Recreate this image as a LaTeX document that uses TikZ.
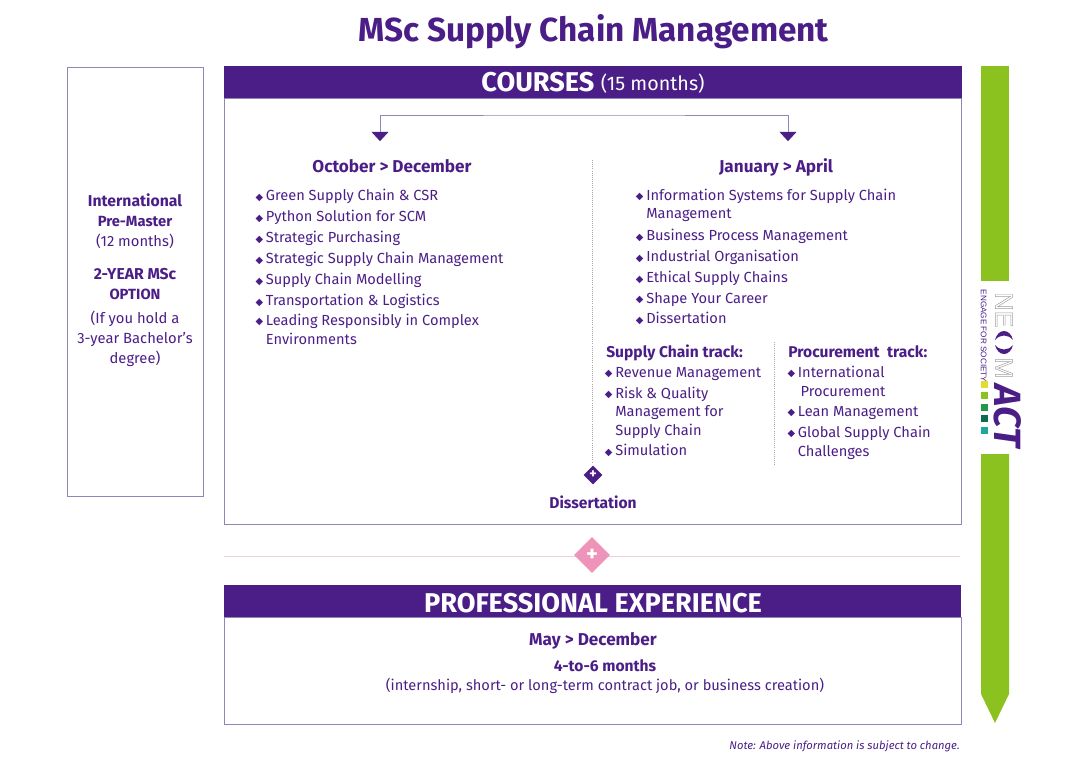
\documentclass[tikz,border=0pt]{standalone}
\usepackage{fontspec}
\setmainfont{Fira Sans}
\newfontfamily\symfont{DejaVu Sans}
\newfontfamily\logofont{Liberation Sans}
\usepackage{xcolor}
\usetikzlibrary{shapes.geometric,arrows.meta}
\definecolor{msPurple}{HTML}{4B1E87}
\definecolor{msGreen}{HTML}{8CC21F}
\definecolor{msFrame}{HTML}{8F86B8}
\definecolor{msPink}{HTML}{EE93B9}
\definecolor{msRule}{HTML}{EBCFDB}
\newcommand{\bul}{\llap{\raisebox{0.6pt}{\symfont\fontsize{7}{7}\selectfont\char"25C6}\hspace{2pt}}}
\newcommand{\itmstrut}{\rule[-2.5pt]{0pt}{8pt}}
\newcommand{\outl}[1]{\special{pdf:code 1 Tr 0.35 w 0.62 G}#1\special{pdf:code 0 Tr}}

\begin{document}
\begin{tikzpicture}[
  frm/.style={draw=msFrame, line width=0.7pt},
  hdr/.style={text=white, font=\fontsize{19.3}{21}\selectfont\bfseries, anchor=center, inner sep=0pt},
  head/.style={text=msPurple, font=\fontsize{12.2}{14}\selectfont\bfseries, inner sep=0pt, text height=9pt, text depth=3pt},
  sub/.style={text=msPurple, font=\fontsize{11.1}{13}\selectfont\bfseries, inner sep=0pt},
  itm/.style={text=msPurple, font=\fontsize{10.4}{13.1}\selectfont, align=left, anchor=west, inner sep=0pt, execute at begin node=\itmstrut, execute at end node=\itmstrut},
  side/.style={text=msPurple, font=\fontsize{10.5}{14.2}\selectfont, align=center, inner sep=0pt},
  diam/.style={diamond, aspect=1, inner sep=0pt, text=white, font=\bfseries},
  sq/.style={minimum size=0.19cm, inner sep=0pt},
  arr/.style={draw=msFrame, line width=0.7pt},
  tip/.style={isosceles triangle, isosceles triangle apex angle=85, shape border rotate=-90, fill=msPurple, inner sep=0pt, minimum width=0.43cm, minimum height=0.22cm}
]
\useasboundingbox (0,0) rectangle (27,18.95);

% Titre
\node[text=msPurple, font=\fontsize{23.7}{26}\selectfont\bfseries] (title) at (14.84,18.17) {MSc Supply Chain Management};

% Colonne gauche
\draw[frm] (1.675,6.55) rectangle (5.075,17.275);
\node[side] (premaster) at (3.375,13.42) {\fontsize{11.2}{14.2}\selectfont\textbf{International}\\\textbf{Pre-Master}\\(12 months)};
\node[side] (option) at (3.375,11.85) {\fontsize{11.2}{14.2}\selectfont\textbf{2-YEAR MSc}\\\textbf{OPTION}};
\node[side] (bachelor) at (3.375,10.48) {(If you hold a\\3-year Bachelor’s\\degree)};

% Courses
\fill[msPurple] (5.6,16.5) rectangle (24.05,17.3);
\draw[frm] (5.6,5.85) rectangle (24.025,16.5);
\node[hdr] (courses) at (14.825,16.88) {COURSES {\fontsize{14}{16}\selectfont\mdseries\raisebox{1.2pt}{(15 months)}}};

% Fleches
\node[tip] (octtip) at (9.5,15.56) {};
\node[tip] (jantip) at (19.7,15.56) {};
\coordinate (split) at (14.6,16.075);
\draw[arr] (octtip.north) |- (split) -| (jantip.north);

\node[head] (octhead) at (9.8,14.75) {October > December};
\node[head] (janhead) at (19.4,14.75) {January > April};

% Separateurs
\draw[densely dotted, gray!70, line width=0.5pt] (14.8,14.95) -- (14.8,7.4);
\draw[densely dotted, gray!70, line width=0.5pt] (19.35,10.4) -- (19.35,7.3);

% Octobre - Decembre
\node[itm] (oct1) at (6.64,14.025) {\bul Green Supply Chain \& CSR};
\node[itm] (oct2) at (6.64,13.5) {\bul Python Solution for SCM};
\node[itm] (oct3) at (6.64,12.975) {\bul Strategic Purchasing};
\node[itm] (oct4) at (6.64,12.45) {\bul Strategic Supply Chain Management};
\node[itm] (oct5) at (6.64,11.925) {\bul Supply Chain Modelling};
\node[itm] (oct6) at (6.64,11.4) {\bul Transportation \& Logistics};
\node[itm] (oct7) at (6.64,10.675) {\bul Leading Responsibly in Complex\\Environments};

% Janvier - Avril
\node[itm] (jan1) at (16.15,13.81) {\bul Information Systems for Supply Chain\\Management};
\node[itm] (jan2) at (16.15,13.025) {\bul Business Process Management};
\node[itm] (jan3) at (16.15,12.5) {\bul Industrial Organisation};
\node[itm] (jan4) at (16.15,11.975) {\bul Ethical Supply Chains};
\node[itm] (jan5) at (16.15,11.45) {\bul Shape Your Career};
\node[itm] (jan6) at (16.15,10.95) {\bul Dissertation};

% Tracks
\node[sub, anchor=west] (supply) at (15.15,10.13) {Supply Chain track:};
\node[itm] (sup1) at (15.375,9.6) {\bul Revenue Management};
\node[itm] (sup2) at (15.375,8.63) {\bul Risk \& Quality\\Management for\\Supply Chain};
\node[itm] (sup3) at (15.375,7.65) {\bul Simulation};
\node[sub, anchor=west] (procure) at (19.7,10.15) {Procurement\ \ track:};
\node[itm] (pro1) at (19.94,9.375) {\bul International\\\hspace{2pt}Procurement};
\node[itm] (pro2) at (19.94,8.625) {\bul Lean Management};
\node[itm] (pro3) at (19.94,7.875) {\bul Global Supply Chain\\Challenges};

\node[diam, fill=msPurple, minimum size=0.47cm, font=\fontsize{10}{10}\selectfont\bfseries] (plusa) at (14.825,7.075) {+};
\node[sub] (dissert) at (14.825,6.4) {Dissertation};

% Regle et plus
\coordinate (rulea) at (5.6,5.05);
\coordinate (ruleb) at (24,5.05);
\draw[msRule, line width=0.7pt] (rulea) -- (ruleb);
\node[diam, fill=msPink, minimum size=0.9cm, font=\fontsize{16}{16}\selectfont\bfseries] (plusb) at (14.8,5.075) {+};

% Experience
\fill[msPurple] (5.6,3.525) rectangle (24.025,4.325);
\draw[frm] (5.6,0.85) rectangle (24.025,3.525);
\node[hdr] (prof) at (14.825,3.88) {PROFESSIONAL EXPERIENCE};
\node[head] (may) at (14.825,2.925) {May > December};
\node[sub] (months) at (15.125,2.3) {4-to-6 months};
\node[text=msPurple, font=\fontsize{10.4}{13}\selectfont, inner sep=0pt] (intern) at (15.125,1.8) {(internship, short- or long-term contract job, or business creation)};
\node[text=msPurple, font=\fontsize{8}{10}\selectfont\itshape, anchor=east, inner sep=0pt] (note) at (24,0.28) {Note: Above information is subject to change.};

% Barre verte
\fill[msGreen] (24.525,17.3) rectangle (25.225,11.925);
\fill[msGreen] (24.525,7.6) -- (25.225,7.6) -- (25.225,1.6) -- (24.875,0.875) -- (24.525,1.6) -- cycle;

% Logo
\node[rotate=-90, inner sep=0pt, text=gray!60, font=\logofont\fontsize{18}{18}\selectfont] (logone) at (25.1,11.2) {\outl{NE}};
\node[rotate=-90, inner sep=0pt, text=gray!60, font=\logofont\fontsize{18}{18}\selectfont] (logom) at (25.1,9.75) {\outl{M}};
\fill[msPurple] (24.875,10.45) .. controls (24.95,10.75) and (25.25,10.75) .. (25.325,10.45) .. controls (25.2,10.6) and (25,10.6) .. cycle;
\fill[msPurple] (24.875,10.325) .. controls (24.95,10.025) and (25.25,10.025) .. (25.325,10.325) .. controls (25.2,10.175) and (25,10.175) .. cycle;
\node[rotate=-90, inner sep=0pt, text=msPurple, font=\fontsize{27}{27}\selectfont\bfseries\itshape] (logoact) at (25.2,8.55) {ACT};
\node[rotate=-90, inner sep=0pt, text=msPurple, font=\logofont\fontsize{5.8}{6}\selectfont] (logotag) at (24.59,10.55) {ENGAGE FOR SOCIETY};
\node[sq, fill={rgb,255:red,227;green,220;blue,44}] (sqa) at (24.61,9.34) {};
\node[sq, fill=msGreen] (sqb) at (24.61,9.06) {};
\node[sq, fill={rgb,255:red,30;green,154;blue,72}] (sqc) at (24.61,8.76) {};
\node[sq, fill={rgb,255:red,14;green,107;blue,75}] (sqd) at (24.61,8.49) {};
\node[sq, fill={rgb,255:red,30;green,167;blue,154}] (sqe) at (24.61,8.19) {};
\end{tikzpicture}
\end{document}
